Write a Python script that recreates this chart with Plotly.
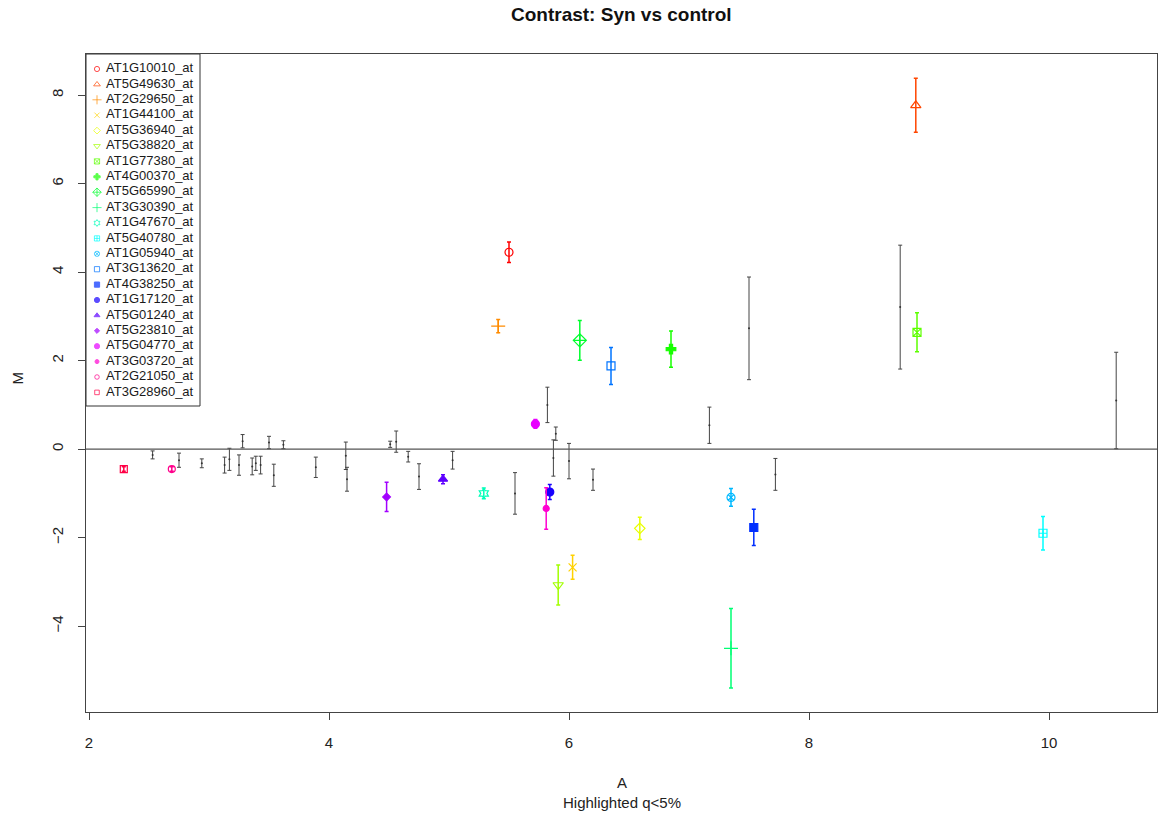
import plotly.graph_objects as go

# ---------------- data ----------------
# background (non-highlighted) probes: A, M, error
bg_A = [2.53, 2.75, 2.94, 3.13, 3.17, 3.28, 3.25, 3.36, 3.39, 3.43, 3.50, 3.54, 3.62, 3.89,
        4.14, 4.15, 4.51, 4.56, 4.66, 4.75, 5.03, 5.55, 5.82, 5.89, 5.87, 6.00, 6.20,
        7.17, 7.50, 7.72, 8.76, 10.56]
bg_M = [-0.13, -0.25, -0.32, -0.36, -0.23, 0.18, -0.36, -0.39, -0.32, -0.36, 0.15, -0.59, 0.10, -0.41,
        -0.15, -0.68, 0.11, 0.17, -0.17, -0.62, -0.25, -1.00, 1.00, 0.35, -0.20, -0.27, -0.69,
        0.54, 2.73, -0.57, 3.21, 1.10]
bg_E = [0.09, 0.16, 0.10, 0.18, 0.25, 0.15, 0.23, 0.19, 0.16, 0.20, 0.14, 0.25, 0.09, 0.23,
        0.31, 0.27, 0.07, 0.24, 0.12, 0.29, 0.20, 0.47, 0.40, 0.15, 0.41, 0.40, 0.24,
        0.41, 1.16, 0.36, 1.40, 1.09]

# highlighted probes (q < 5%)
hl_names = ["AT1G10010_at", "AT5G49630_at", "AT2G29650_at", "AT1G44100_at", "AT5G36940_at",
            "AT5G38820_at", "AT1G77380_at", "AT4G00370_at", "AT5G65990_at", "AT3G30390_at",
            "AT1G47670_at", "AT5G40780_at", "AT1G05940_at", "AT3G13620_at", "AT4G38250_at",
            "AT1G17120_at", "AT5G01240_at", "AT5G23810_at", "AT5G04770_at", "AT3G03720_at",
            "AT2G21050_at", "AT3G28960_at"]
hl_A = [5.50, 8.89, 5.41, 6.03, 6.59, 5.91, 8.90, 6.85, 6.09, 7.35,
        5.29, 9.95, 7.35, 6.35, 7.54, 5.84, 4.95, 4.48, 5.72, 5.81,
        2.69, 2.29]
hl_M = [4.45, 7.77, 2.78, -2.67, -1.79, -3.07, 2.64, 2.26, 2.46, -4.50,
        -1.00, -1.90, -1.09, 1.88, -1.77, -0.97, -0.68, -1.08, 0.57, -1.34,
        -0.45, -0.45]
hl_E = [0.23, 0.61, 0.15, 0.27, 0.25, 0.45, 0.44, 0.41, 0.45, 0.90,
        0.12, 0.38, 0.20, 0.42, 0.41, 0.17, 0.10, 0.33, 0.10, 0.47,
        0.05, 0.05]

x_ticks = [2, 4, 6, 8, 10]
y_ticks = [-4, -2, 0, 2, 4, 6, 8]

# ---------------- styles ----------------
colors = ["#FF0000", "#FF4600", "#FF8B00", "#FFD100", "#E8FF00", "#A2FF00", "#5DFF00", "#17FF00",
          "#00FF2E", "#00FF74", "#00FFB9", "#00FFFF", "#00B9FF", "#0074FF", "#002EFF", "#1700FF",
          "#5D00FF", "#A200FF", "#E800FF", "#FF00D1", "#FF008B", "#FF0046"]
symbols = ["circle-open", "triangle-up-open", "cross-thin-open", "x-thin-open", "diamond-open",
           "triangle-down-open", "square-x-open", "cross", "diamond-cross-open",
           "cross-thin-open", "hexagram-open", "square-cross-open", "circle-x-open", "square-open",
           "square", "circle", "triangle-up", "diamond", "circle", "circle", "circle-open", "square-open"]
sizes = [8, 9, 10, 8, 8, 9, 8, 8, 10, 10, 8, 8, 8, 8, 8, 8, 8, 6, 8, 6, 7, 7]

fig = go.Figure()

# zero line
fig.add_hline(y=0, line=dict(color="#555555", width=1.2))

# background probes
fig.add_trace(go.Scatter(
    x=bg_A, y=bg_M, mode="markers",
    marker=dict(color="#333333", size=2),
    error_y=dict(type="data", array=bg_E, color="#444444", thickness=1, width=2),
    showlegend=False, hoverinfo="skip"))

# highlighted probes
for i, name in enumerate(hl_names):
    fig.add_trace(go.Scatter(
        x=[hl_A[i]], y=[hl_M[i]], mode="markers", name=name,
        marker=dict(color=colors[i], symbol=symbols[i], size=sizes[i],
                    line=dict(color=colors[i], width=1.2)),
        error_y=dict(type="data", array=[hl_E[i]], color=colors[i], thickness=1.5, width=2),
        showlegend=False))

# manual legend (R-style compact box) on an overlay pixel-like axis
PX_L, PX_R, PX_T, PX_B = 86, 1157, 54, 712
leg_y0, leg_dy = 69, 15.4
leg_y = [leg_y0 + i * leg_dy for i in range(len(hl_names))]
fig.add_trace(go.Scatter(
    x=[97] * len(hl_names), y=leg_y, mode="markers", xaxis="x2", yaxis="y2",
    marker=dict(color=colors, symbol=symbols, size=[max(4, s * 0.65) for s in sizes],
                line=dict(color=colors, width=1)),
    showlegend=False, hoverinfo="skip"))
fig.add_trace(go.Scatter(
    x=[106] * len(hl_names), y=leg_y, mode="text", xaxis="x2", yaxis="y2",
    text=hl_names, textposition="middle right",
    textfont=dict(family="Liberation Sans, Arial, sans-serif", size=13, color="#1a1a1a"),
    showlegend=False, hoverinfo="skip"))
fig.add_shape(type="rect", xref="x2", yref="y2", x0=86, x1=200, y0=54, y1=406,
              line=dict(color="#333333", width=1), fillcolor="rgba(0,0,0,0)")

font = dict(family="Liberation Sans, Arial, sans-serif", size=14, color="#222222")

fig.update_layout(
    width=1160, height=821,
    margin=dict(l=86, r=3, t=54, b=109),
    paper_bgcolor="white", plot_bgcolor="white",
    font=font,
    showlegend=False,
    xaxis=dict(range=[1.975, 10.9], tickvals=x_ticks, ticks="outside", ticklen=7,
               tickcolor="#444444", showgrid=False, zeroline=False,
               showline=True, mirror=True, linecolor="#444444", linewidth=1.2,
               ticklabelstandoff=10,
               tickfont=dict(size=15, color="#222222")),
    yaxis=dict(range=[-5.94, 8.93], tickvals=y_ticks, ticks="outside", ticklen=7,
               tickcolor="#444444", showgrid=False, zeroline=False,
               showline=True, mirror=True, linecolor="#444444", linewidth=1.2,
               ticklabelstandoff=9,
               tickangle=-90, tickfont=dict(size=15, color="#222222")),
    xaxis2=dict(overlaying="x", range=[PX_L, PX_R], visible=False, fixedrange=True),
    yaxis2=dict(overlaying="y", range=[PX_B, PX_T], visible=False, fixedrange=True),
    annotations=[
        dict(text="<b>Contrast: Syn vs control</b>", xref="paper", yref="paper",
             x=0.5, y=1, yshift=52, showarrow=False, font=dict(size=19, color="#111111")),
        dict(text="A", xref="paper", yref="paper", x=0.5, y=0, yshift=-81,
             showarrow=False, font=dict(size=15, color="#222222")),
        dict(text="Highlighted q<5%", xref="paper", yref="paper", x=0.5, y=0, yshift=-101,
             showarrow=False, font=dict(size=15, color="#222222")),
        dict(text="M", xref="paper", yref="paper", x=0, xshift=-80, y=0.5, yshift=5,
             textangle=-90, showarrow=False, font=dict(size=15, color="#222222")),
    ],
)

fig.write_html("out.html", config={"displayModeBar": False},
               post_script="document.body.style.margin='0';document.body.style.padding='0';")
